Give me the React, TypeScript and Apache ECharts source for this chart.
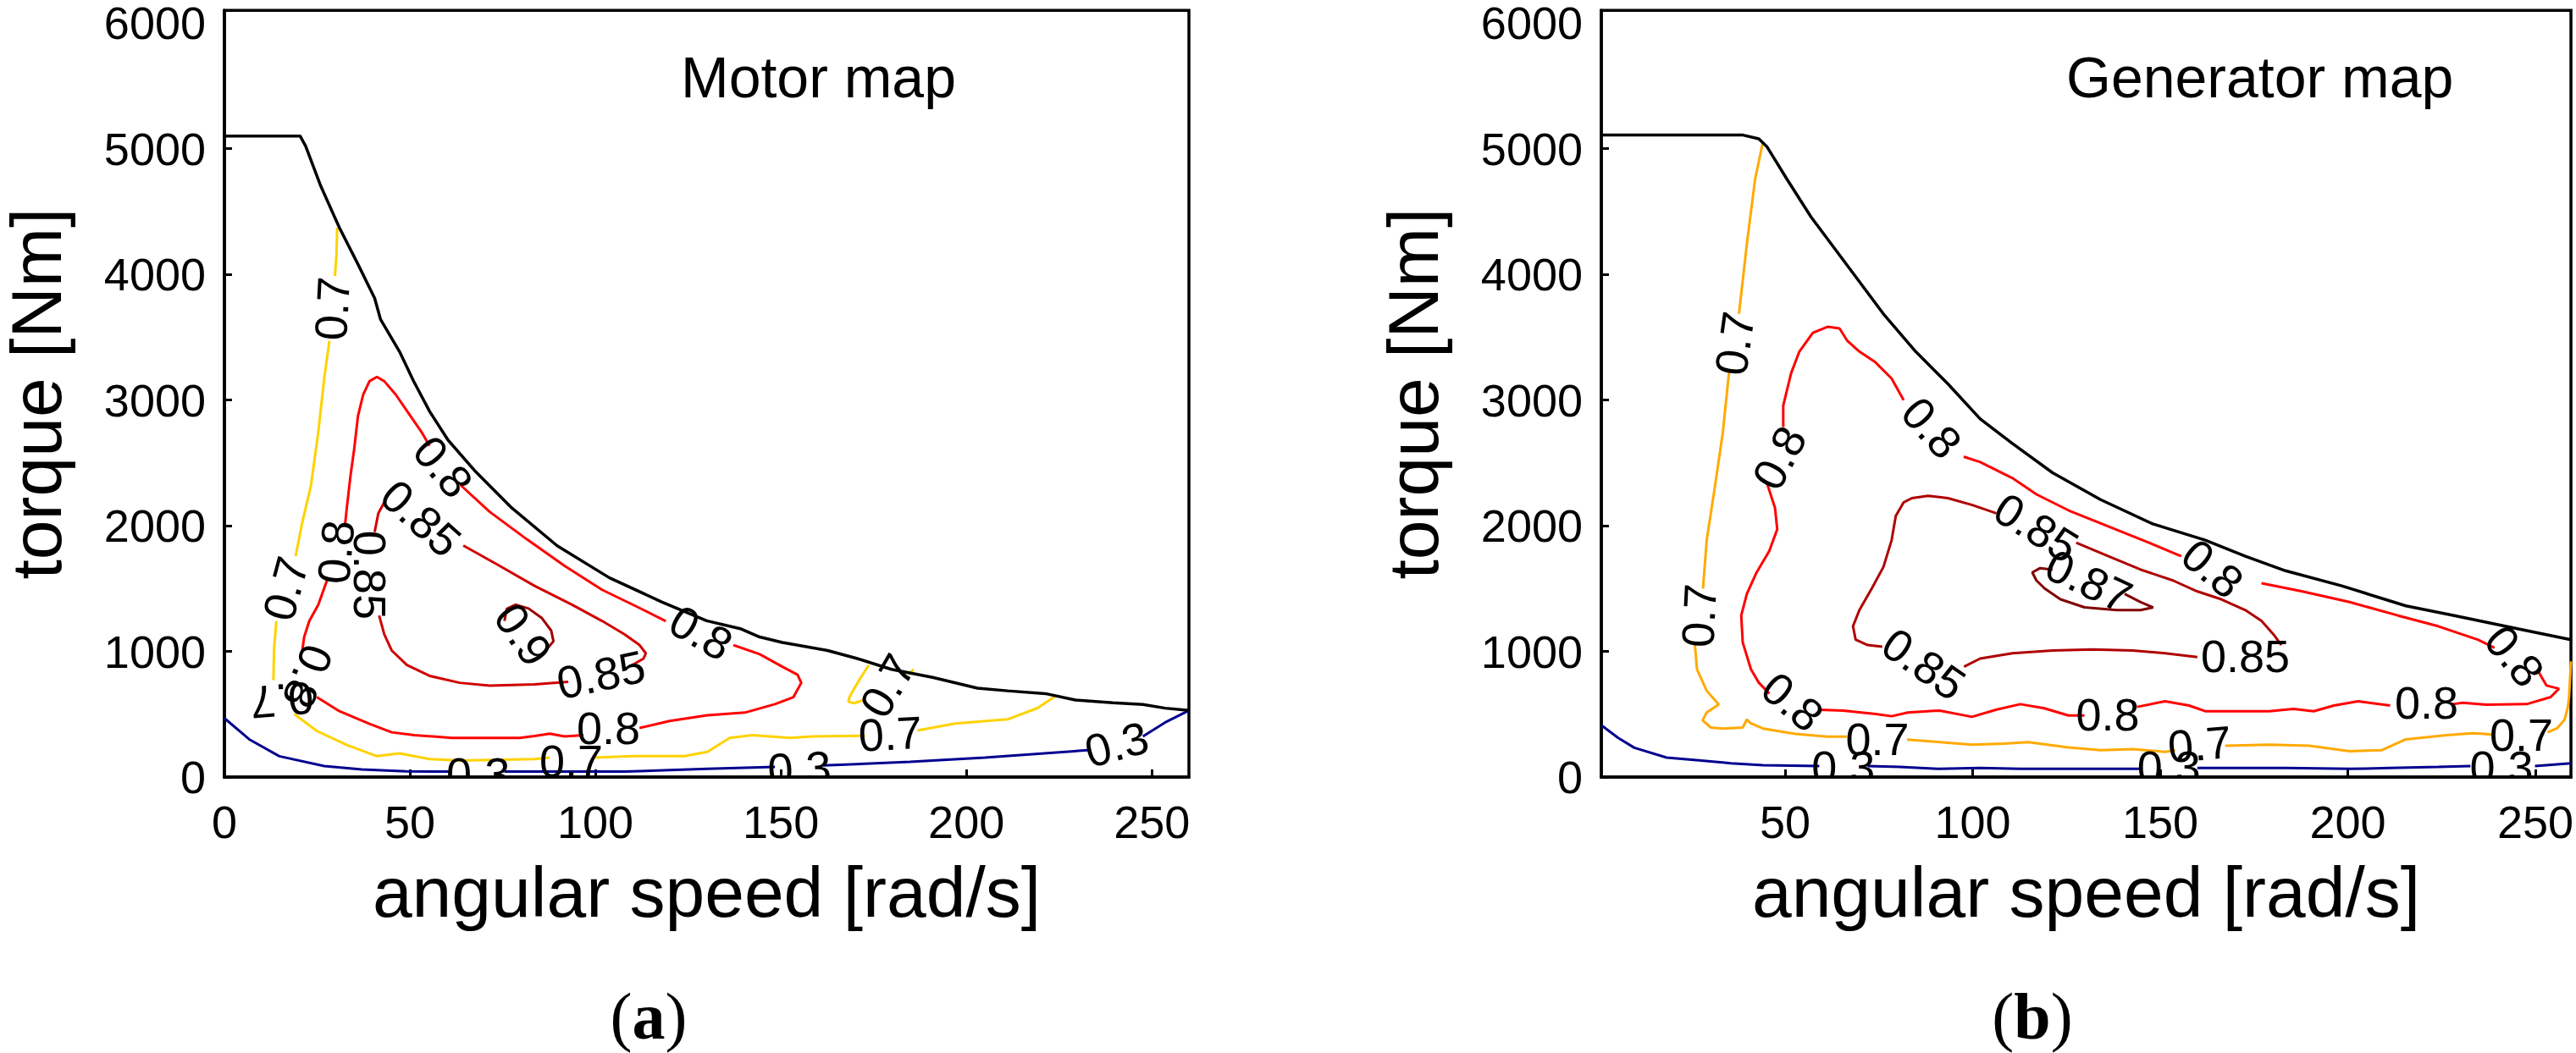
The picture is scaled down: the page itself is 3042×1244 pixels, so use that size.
import React, { useEffect, useRef } from 'react';
import * as echarts from 'echarts';

const FONT = '"Liberation Sans", Arial, Helvetica, sans-serif';
const SERIF = '"Liberation Serif", "Times New Roman", serif';

// Axis ticks / labels
const yTickLabels = [0, 1000, 2000, 3000, 4000, 5000, 6000];
const yTicks = [0, 1000, 2000, 3000, 4000, 5000];
const xTickLabelsMotor = [0, 50, 100, 150, 200, 250];
const xTickLabelsGen = [50, 100, 150, 200, 250];
const xTicks = [50, 100, 150, 200, 250];

type P = [number, number] | '-';
type L = [number, number, string, number]; // x, y, text, rotation (deg)

// ---------------- Motor map (a) ----------------
const motorBoundary: P[] = [[0, 5100], [20.4, 5100], [21.9, 5020], [26, 4700], [31, 4370], [36, 4080], [40.5, 3810], [42.1, 3640], [47.2, 3385], [51, 3150], [55.3, 2910], [60.3, 2680], [67.4, 2440], [77.5, 2140], [89.7, 1840], [103.8, 1585], [118, 1392], [130, 1243], [139.3, 1178], [144.3, 1114], [150.4, 1071], [162.6, 1007], [170.6, 943], [179.8, 857], [190.9, 793], [203, 707], [211.1, 686], [221.3, 664], [229.4, 613], [239.5, 591], [247.6, 578], [253.6, 548], [260, 530]];

const motor03: P[] = [[0, 468], [6.7, 300], [14.8, 166], [26.9, 87], [37, 60], [49, 45], [61.3, 43], '-', [75.5, 43], [107.9, 43], [130.2, 65], [148.4, 81], '-', [161.5, 92], [184.8, 121], [205, 155], [233.4, 215], '-', [247.6, 323], [253.6, 435], [260, 530]];
const motor03Labels: L[] = [[68.4, 30, '0.3', 0], [155, 70, '0.3', 3], [240.5, 262, '0.3', 15]];

const motor07: P[] = [[30.4, 4370], [30.2, 4156], [29.8, 3985], '-', [28.3, 3470], [26.9, 3170], [25.3, 2742], [23.3, 2314], [20.9, 2014], [19.2, 1757], '-', [14, 1242], [13.4, 1028], [13.2, 771], '-', [18.8, 502], [24.9, 367], [33, 255], [41.1, 166], [47.2, 188], [55.3, 143], [63.4, 132], [83.6, 143], [87.7, 155], '-', [99.8, 155], [109.9, 166], [124, 166], [130.2, 200], [136.2, 312], [142.3, 334], [152.4, 312], [158.5, 323], [172.7, 329], '-', [186.8, 370], [197, 426], [211.1, 459], [219.2, 549], [224.3, 650], '-', [173.7, 891], [171.1, 771], [168.6, 643], [168.2, 600], [169.6, 587], [172.3, 613], '-', [184.4, 814], [185.8, 857]];
const motor07Labels: L[] = [[29, 3727, '0.7', 87], [16.4, 1500, '0.7', 75], [15.5, 610, '0.7', 185], [93.5, 128, '0.7', 0], [179.5, 345, '0.7', 3], [178.7, 728, '0.7', 60]];

const motor08: P[] = [[55.3, 2635], [53.2, 2742], [49.2, 2913], [46.2, 3042], [43.1, 3149], [41.1, 3183], [39.1, 3149], [37.4, 3042], [36, 2871], [35, 2613], [34, 2399], [33, 2142], [32.5, 2000], '-', [27.9, 1585], [25.3, 1371], [22.9, 1242], [21.5, 1114], [20.9, 985], '-', [24.9, 636], [31, 524], [39.1, 423], [45.1, 356], [51.2, 334], [61.3, 311], [79.6, 311], [83.6, 327], [87.7, 345], [91.7, 323], [96.8, 334], '-', [111.9, 390], [120, 446], [130.2, 491], [140.3, 513], [148.4, 580], [153.4, 636], [155.5, 750], [154.5, 814], [150.4, 878], [144.3, 977], [137.2, 1050], '-', [119, 1240], [111.9, 1345], [101.8, 1490], [91.7, 1680], [81.6, 1890], [71.5, 2110], [63.4, 2330], '-', [55.3, 2635]];
const motor08Labels: L[] = [[30, 1790, '0.8', 85], [22.5, 800, '0.8', -112], [103.5, 390, '0.8', 0], [128.5, 1150, '0.8', -30], [59, 2470, '0.8', -50]];

const motor085: P[] = [[43.1, 2185], [41.5, 2099], [40.5, 1949], '-', [41.7, 1285], [43.1, 1135], [45.1, 1007], [49.2, 891], [55.3, 805], [63.4, 750], [71.5, 728], [83.6, 737], [92.7, 758], '-', [109.9, 891], [113, 943], [113.6, 985], [111.9, 1050], [107.9, 1135], [101.8, 1242], [93.7, 1371], [83.6, 1521], [73.5, 1692], [64.4, 1842], '-', [43.1, 2185]];
const motor085Labels: L[] = [[39.3, 1607, '0.85', -90], [101.5, 815, '0.85', 12], [53, 2060, '0.85', -42]];

const motor09: P[] = [[75.5, 1242], [76.1, 1337], [78.5, 1371], [82, 1341], [85.6, 1264], [88.1, 1165], [88.7, 1080], [87.2, 1028]];
const motor09Labels: L[] = [[80.6, 1135, '0.9', -55]];

// ---------------- Generator map (b) ----------------
const genBoundary: P[] = [[1, 5107], [38.8, 5107], [43, 5077], [45.2, 5013], [50.5, 4756], [56.9, 4456], [65.5, 4113], [76.2, 3685], [84.8, 3385], [93.4, 3128], [102, 2849], [110.5, 2656], [121.3, 2421], [134.1, 2207], [148, 2014], [162, 1885], [172.7, 1757], [183.4, 1641], [198.4, 1521], [215.5, 1362], [228.4, 1285], [245.5, 1178], [259.5, 1093]];

const gen03: P[] = [[1, 412], [5.5, 311], [9.8, 233], [18.4, 155], [27, 133], [35.5, 110], [44.1, 94], [59.1, 87], '-', [72, 87], [80.5, 80], [91.2, 65], [101.9, 72], [112.7, 65], [144.8, 65], '-', [159.9, 72], [183.4, 72], [200.5, 65], [211.2, 72], [224.1, 80], [232.7, 87], '-', [249.9, 87], [259.5, 110]];
const gen03Labels: L[] = [[65.5, 81, '0.3', 0], [152.3, 81, '0.3', 0], [241, 84, '0.3', 0]];

const gen07: P[] = [[44.1, 5056], [42, 4756], [39.8, 4242], [37.7, 3685], '-', [35.1, 3235], [33.4, 2742], [31.3, 2314], [29.1, 1885], [28.1, 1500], '-', [25.9, 1071], [26.5, 857], [29.1, 686], [32.3, 578], [29.1, 514], [28, 450], [30.2, 394], [33.4, 386], [38.7, 394], [39.8, 458], [40.8, 428], [44.1, 386], [52.7, 343], [61.2, 321], [66.5, 321], '-', [82.5, 298], [91.2, 278], [99.8, 257], [108.4, 266], [114.8, 278], [125.5, 236], [134.1, 214], [142.7, 223], [151.3, 201], [154, 214], '-', [167.3, 249], [179.1, 257], [189.8, 249], [200.5, 206], [209.1, 214], [215.5, 300], [226.3, 334], [233.3, 349], [236.3, 344], [239, 336], '-', [253.3, 356], [255.9, 390], [257.8, 457], [258.6, 546], [259, 636], [259.5, 920]];
const gen07Labels: L[] = [[36.5, 3450, '0.7', 82], [27, 1285, '0.7', 87], [74.6, 302, '0.7', 0], [160.5, 262, '0.7', 5], [246.3, 336, '0.7', 0]];

const gen08: P[] = [[59.1, 535], [65.5, 529], [74.1, 502], [78.4, 484], [82.7, 513], [91.2, 529], [99.8, 479], [106.2, 535], [112.7, 580], [119.1, 547], [125.5, 490], [129.8, 490], '-', [143.8, 558], [151.3, 603], [157.7, 569], [162, 524], [179.1, 524], [185.5, 542], [190.9, 524], [196.3, 569], [202.7, 603], [211.3, 569], '-', [228, 580], [230.6, 591], [237, 575], [247.7, 580], [254.1, 636], [256.3, 703], [253, 728], [250.9, 835], '-', [239.1, 1028], [234.8, 1092], [224.1, 1200], [213.4, 1285], [200.5, 1392], [187.7, 1478], [177, 1542], '-', [155.6, 1757], [147, 1864], [136.3, 1992], [125.6, 2121], [117, 2249], [110.6, 2378], [102, 2506], [97.6, 2549], '-', [81.6, 2999], [78.4, 3170], [74.1, 3299], [69.8, 3385], [66.6, 3470], [64.5, 3569], [61.3, 3582], [57.4, 3535], [53.8, 3385], [51.6, 3213], [49.5, 2956], [49.5, 2785], '-', [45.2, 2335], [47.3, 2142], [47.9, 1971], [45.8, 1800], [42.4, 1628], [39.8, 1457], [38.3, 1285], [38.7, 1071], [40.9, 857], [43, 750], [45.8, 664]];
const gen08Labels: L[] = [[52, 600, '0.8', -40], [136, 497, '0.8', 0], [221, 591, '0.8', 0], [244.5, 964, '0.8', -50], [164, 1660, '0.8', -40], [89.1, 2780, '0.8', -48], [48.4, 2540, '0.8', 62]];

const gen085: P[] = [[127.6, 1864], [136.2, 1757], [144.8, 1650], [153.4, 1564], [159.8, 1478], [166.3, 1414], [172.7, 1328], [177, 1242], [180.2, 1135], [182.3, 1050], '-', [159.9, 955], [151.3, 985], [142.7, 1007], [132, 1015], [121.3, 1007], [110.6, 985], [102, 943], [97.7, 878], '-', [75.9, 1037], [72, 1050], [68.8, 1093], [68.1, 1200], [69.8, 1328], [73.1, 1500], [76.2, 1671], [78.4, 1885], [79.5, 2078], [81.6, 2185], [83.8, 2219], [88.1, 2237], [93.4, 2219], [99.9, 2164], [106.3, 2099]];
const gen085Labels: L[] = [[117, 1985, '0.85', -32], [172.7, 964, '0.85', 0], [87, 900, '0.85', -35]];

const gen087: P[] = [[121.3, 1650], [118, 1662], [115.9, 1628], [117, 1564], [119.2, 1500], [123.4, 1414], [129.8, 1350], [138.4, 1328], [144.8, 1328], [148.1, 1350], [144.8, 1392], [140.5, 1457]];
const gen087Labels: L[] = [[131, 1560, '0.87', -25]];

// colours
const C_BOUND = '#000000';
const C03 = '#00008F';
const C07M = '#FFD200';
const C07G = '#FFAA00';
const C08 = '#FF0000';
const C085M = '#D00000';
const C09M = '#A00000';
const C085G = '#B00000';
const C087G = '#800000';

function lineSeries(data: P[], color: string, gi: number, width = 3) {
  return {
    type: 'line',
    xAxisIndex: gi,
    yAxisIndex: gi,
    data,
    showSymbol: false,
    symbol: 'none',
    connectNulls: false,
    clip: true,
    silent: true,
    lineStyle: { color, width },
    z: 3,
  };
}

function labelSeries(labels: L[], gi: number) {
  return {
    type: 'custom',
    xAxisIndex: gi,
    yAxisIndex: gi,
    clip: true,
    silent: true,
    z: 6,
    data: labels.map((l) => [l[0], l[1]]),
    renderItem: (params: any, api: any) => {
      const p = api.coord([api.value(0), api.value(1)]);
      const lab = labels[params.dataIndex];
      return {
        type: 'text',
        x: p[0],
        y: p[1],
        rotation: (lab[3] * Math.PI) / 180,
        style: {
          text: lab[2],
          fontSize: 54,
          fontFamily: FONT,
          fill: '#000',
          align: 'center',
          verticalAlign: 'middle',
          textAlign: 'center',
          textVerticalAlign: 'middle',
        },
      };
    },
  };
}

const plain = (v: number) => String(v);

function xAxisOf(gi: number, min: number, max: number, labels: number[]) {
  return {
    type: 'value',
    gridIndex: gi,
    min,
    max,
    name: 'angular speed [rad/s]',
    nameLocation: 'middle',
    nameGap: 94,
    nameTextStyle: { fontSize: 84, fontFamily: FONT, color: '#000' },
    axisLine: { show: true, onZero: false, lineStyle: { color: '#000', width: 3.5 } },
    axisTick: { show: true, inside: true, length: 9, lineStyle: { color: '#000', width: 3 }, customValues: xTicks },
    axisLabel: { show: true, margin: 26, fontSize: 54, fontFamily: FONT, color: '#000', customValues: labels, formatter: plain },
    splitLine: { show: false },
  };
}

function yAxisOf(gi: number) {
  return {
    type: 'value',
    gridIndex: gi,
    min: 0,
    max: 6100,
    name: 'torque [Nm]',
    nameLocation: 'middle',
    nameGap: 192,
    nameTextStyle: { fontSize: 84, lineHeight: 60, fontFamily: FONT, color: '#000' },
    axisLine: { show: true, onZero: false, lineStyle: { color: '#000', width: 3.5 } },
    axisTick: { show: true, inside: true, length: 9, lineStyle: { color: '#000', width: 3 }, customValues: yTicks },
    axisLabel: { show: true, margin: 22, fontSize: 54, lineHeight: 40, fontFamily: FONT, color: '#000', customValues: yTickLabels, formatter: plain },
    splitLine: { show: false },
  };
}

export default function App() {
  const ref = useRef<HTMLDivElement>(null);
  useEffect(() => {
    if (!ref.current) return;
    const chart = echarts.init(ref.current, undefined, { renderer: 'svg' });
    const option: any = {
      animation: false,
      backgroundColor: '#ffffff',
      grid: [
        { left: 256, top: 9, width: 1148, height: 909, show: true, borderColor: '#000', borderWidth: 3.5, backgroundColor: 'transparent' },
        { left: 1891, top: 9, width: 1147, height: 909, show: true, borderColor: '#000', borderWidth: 3.5, backgroundColor: 'transparent' },
      ],
      xAxis: [xAxisOf(0, 0, 260, xTickLabelsMotor), xAxisOf(1, 1, 259.5, xTickLabelsGen)],
      yAxis: [yAxisOf(0), yAxisOf(1)],
      series: [
        lineSeries(motor03, C03, 0),
        lineSeries(motor07, C07M, 0),
        lineSeries(motor08, C08, 0),
        lineSeries(motor085, C085M, 0),
        lineSeries(motor09, C09M, 0),
        lineSeries(motorBoundary, C_BOUND, 0, 3.5),
        labelSeries([...motor03Labels, ...motor07Labels, ...motor08Labels, ...motor085Labels, ...motor09Labels], 0),
        lineSeries(gen03, C03, 1),
        lineSeries(gen07, C07G, 1),
        lineSeries(gen08, C08, 1),
        lineSeries(gen085, C085G, 1),
        lineSeries(gen087, C087G, 1),
        lineSeries(genBoundary, C_BOUND, 1, 3.5),
        labelSeries([...gen03Labels, ...gen07Labels, ...gen08Labels, ...gen085Labels, ...gen087Labels], 1),
      ],
      graphic: [
        {
          type: 'text', x: 804, y: 91, z: 10,
          style: { text: 'Motor map', fontSize: 68, fontFamily: FONT, fill: '#000', align: 'left', verticalAlign: 'middle', textAlign: 'left', textVerticalAlign: 'middle' },
        },
        {
          type: 'text', x: 2440, y: 91, z: 10,
          style: { text: 'Generator map', fontSize: 68, fontFamily: FONT, fill: '#000', align: 'left', verticalAlign: 'middle', textAlign: 'left', textVerticalAlign: 'middle' },
        },
        {
          type: 'text', x: 766, y: 1200, z: 10,
          style: {
            text: '{p|(}{b|a}{p|)}', fontSize: 78, fontFamily: SERIF, fill: '#000',
            align: 'center', verticalAlign: 'middle', textAlign: 'center', textVerticalAlign: 'middle',
            rich: {
              p: { fontSize: 78, fontFamily: SERIF, fill: '#000', color: '#000' },
              b: { fontSize: 78, fontFamily: SERIF, fontWeight: 'bold', fill: '#000', color: '#000' },
            },
          },
        },
        {
          type: 'text', x: 2400, y: 1200, z: 10,
          style: {
            text: '{p|(}{b|b}{p|)}', fontSize: 78, fontFamily: SERIF, fill: '#000',
            align: 'center', verticalAlign: 'middle', textAlign: 'center', textVerticalAlign: 'middle',
            rich: {
              p: { fontSize: 78, fontFamily: SERIF, fill: '#000', color: '#000' },
              b: { fontSize: 78, fontFamily: SERIF, fontWeight: 'bold', fill: '#000', color: '#000' },
            },
          },
        },
      ],
    };
    chart.setOption(option);
    return () => chart.dispose();
  }, []);
  return (
    <div
      ref={ref}
      style={{ position: 'fixed', left: 0, top: 0, width: 3042, height: 1244, background: '#fff' }}
    />
  );
}
